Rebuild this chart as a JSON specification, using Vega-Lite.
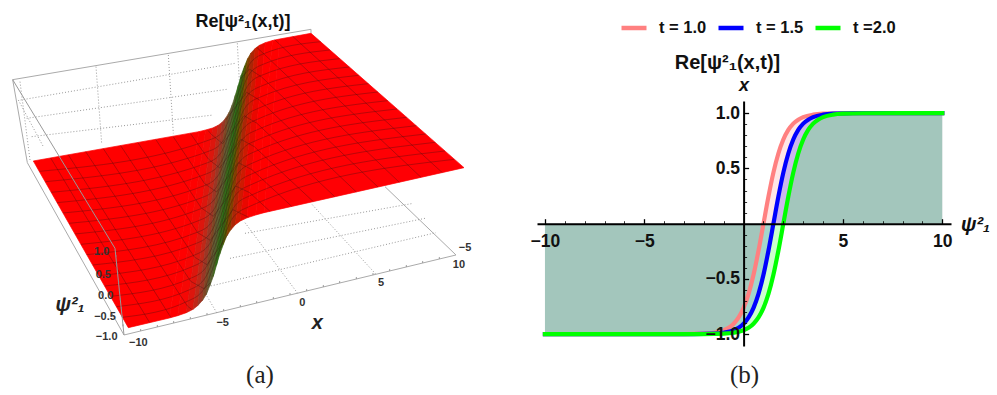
{"$schema":"https://vega.github.io/schema/vega-lite/v6.json","background":"white","padding":0,"spacing":0,"config":{"view":{"stroke":null},"text":{"font":"Liberation Sans"},"title":{"font":"Liberation Sans","fontWeight":"bold","color":"#111"}},
"hconcat":[
{"width":500,"height":395,"title":{"text":"Re[ψ²₁(x,t)]","fontSize":18,"anchor":"middle","dx":-7,"offset":-31},
"projection":{"type":"identity","scale":0.33333,"translate":[0,0]},
"layer":[
{"data":{"values":[
{"k":"a","u":38,"v":239},{"k":"a","u":933,"v":88},{"k":"a","u":933,"v":100},
{"k":"b","u":38,"v":239},{"k":"b","u":82,"v":488},
{"k":"c","u":82,"v":488},{"k":"c","u":372,"v":1005},
{"k":"d","u":1368,"v":765},{"k":"d","u":1155,"v":560},
{"k":"e","u":372,"v":1005},{"k":"e","u":1368,"v":765}]},
"mark":{"type":"line","stroke":"#aaaaaa","strokeWidth":1},"encoding":{"longitude":{"field":"u","type":"quantitative"},"latitude":{"field":"v","type":"quantitative"},"detail":{"field":"k"}}},
{"data":{"values":[
{"k":"a","u":288,"v":200},{"k":"a","u":305,"v":430},
{"k":"b","u":505,"v":165},{"k":"b","u":520,"v":400},
{"k":"c","u":712,"v":130},{"k":"c","u":725,"v":375},
{"k":"d","u":62,"v":300},{"k":"d","u":705,"v":190},
{"k":"e","u":80,"v":355},{"k":"e","u":680,"v":268},
{"k":"f","u":95,"v":410},{"k":"f","u":640,"v":345},
{"k":"g","u":55,"v":300},{"k":"g","u":130,"v":440},
{"k":"h","u":60,"v":245},{"k":"h","u":90,"v":480},
{"k":"i","u":650,"v":938},{"k":"i","u":610,"v":870},
{"k":"j","u":893,"v":880},{"k":"j","u":735,"v":668},
{"k":"l","u":1127,"v":822},{"k":"l","u":935,"v":612},
{"k":"m","u":615,"v":862},{"k":"m","u":1308,"v":698},
{"k":"n","u":690,"v":775},{"k":"n","u":1275,"v":655},
{"k":"o","u":735,"v":700},{"k":"o","u":1240,"v":610}]},
"mark":{"type":"line","stroke":"#999999","strokeWidth":1,"strokeDash":[1,2]},"encoding":{"longitude":{"field":"u","type":"quantitative"},"latitude":{"field":"v","type":"quantitative"},"detail":{"field":"k"}}},
{"data":{"values":[
{"phase":-4,"type":"Feature","geometry":{"type":"Polygon","coordinates":[[[100,483],[596.5,395],[508,954],[385,983],[100,483]]]}},
{"phase":4,"type":"Feature","geometry":{"type":"Polygon","coordinates":[[[839,117],[933,100],[1392,503],[792,638],[839,117]]]}},
{"phase":-2.75,"type":"Feature","geometry":{"type":"Polygon","coordinates":[[[596.5,395],[617,390],[533,947],[508,954],[596.5,395]]]}},
{"phase":-2.25,"type":"Feature","geometry":{"type":"Polygon","coordinates":[[[617,390],[638,384],[559,938],[533,947],[617,390]]]}},
{"phase":-1.8,"type":"Feature","geometry":{"type":"Polygon","coordinates":[[[638,384],[654.5,376],[579,928],[559,938],[638,384]]]}},
{"phase":-1.45,"type":"Feature","geometry":{"type":"Polygon","coordinates":[[[654.5,376],[667,366.5],[593,917],[579,928],[654.5,376]]]}},
{"phase":-1.15,"type":"Feature","geometry":{"type":"Polygon","coordinates":[[[667,366.5],[678,353],[607.5,901],[593,917],[667,366.5]]]}},
{"phase":-0.875,"type":"Feature","geometry":{"type":"Polygon","coordinates":[[[678,353],[688,336],[619,883],[607.5,901],[678,353]]]}},
{"phase":-0.625,"type":"Feature","geometry":{"type":"Polygon","coordinates":[[[688,336],[697,314],[629,858],[619,883],[688,336]]]}},
{"phase":-0.375,"type":"Feature","geometry":{"type":"Polygon","coordinates":[[[697,314],[706,286],[640,828.5],[629,858],[697,314]]]}},
{"phase":-0.125,"type":"Feature","geometry":{"type":"Polygon","coordinates":[[[706,286],[715,256],[649.5,795.5],[640,828.5],[706,286]]]}},
{"phase":0.125,"type":"Feature","geometry":{"type":"Polygon","coordinates":[[[715,256],[724,225],[659,763],[649.5,795.5],[715,256]]]}},
{"phase":0.375,"type":"Feature","geometry":{"type":"Polygon","coordinates":[[[724,225],[734,198],[670,733],[659,763],[724,225]]]}},
{"phase":0.625,"type":"Feature","geometry":{"type":"Polygon","coordinates":[[[734,198],[743,176],[680,708],[670,733],[734,198]]]}},
{"phase":0.875,"type":"Feature","geometry":{"type":"Polygon","coordinates":[[[743,176],[753,159],[692,690],[680,708],[743,176]]]}},
{"phase":1.15,"type":"Feature","geometry":{"type":"Polygon","coordinates":[[[753,159],[766,145],[706,674],[692,690],[753,159]]]}},
{"phase":1.45,"type":"Feature","geometry":{"type":"Polygon","coordinates":[[[766,145],[778.5,136],[721,663],[706,674],[766,145]]]}},
{"phase":1.8,"type":"Feature","geometry":{"type":"Polygon","coordinates":[[[778.5,136],[796,128],[741,653.5],[721,663],[778.5,136]]]}},
{"phase":2.25,"type":"Feature","geometry":{"type":"Polygon","coordinates":[[[796,128],[817.5,121.5],[767,645],[741,653.5],[796,128]]]}},
{"phase":2.75,"type":"Feature","geometry":{"type":"Polygon","coordinates":[[[817.5,121.5],[839,117],[792,638],[767,645],[817.5,121.5]]]}}
]},
"mark":{"type":"geoshape","strokeWidth":0.7},
"encoding":{
"color":{"field":"phase","type":"quantitative","legend":null,"scale":{"domain":[-2.4,-1.6,-1,-0.5,0,0.5,1,1.6,2.2],"range":["#ff0000","#d21a10","#8a3a2a","#5a5a3a","#1f6a14","#3a5a10","#9a2808","#e00a00","#ff0000"]}},
"stroke":{"field":"phase","type":"quantitative","legend":null,"scale":{"domain":[-2.4,-1.6,-1,-0.5,0,0.5,1,1.6,2.2],"range":["#ff0000","#d21a10","#8a3a2a","#5a5a3a","#1f6a14","#3a5a10","#9a2808","#e00a00","#ff0000"]}}}},
{"data":{"values":[
{"k":1,"u":367,"v":952},{"k":1,"u":564,"v":903},{"k":1,"u":612,"v":867},{"k":1,"u":654,"v":762},{"k":1,"u":696,"v":657},{"k":1,"u":745,"v":621},{"k":1,"u":1363,"v":478},
{"k":2,"u":349,"v":920},{"k":2,"u":569,"v":869},{"k":2,"u":616,"v":833},{"k":2,"u":658,"v":728},{"k":2,"u":700,"v":624},{"k":2,"u":748,"v":588},{"k":2,"u":1335,"v":453},
{"k":3,"u":332,"v":889},{"k":3,"u":574,"v":834},{"k":3,"u":621,"v":798},{"k":3,"u":662,"v":694},{"k":3,"u":703,"v":590},{"k":3,"u":751,"v":555},{"k":3,"u":1306,"v":427},
{"k":4,"u":314,"v":858},{"k":4,"u":579,"v":799},{"k":4,"u":625,"v":764},{"k":4,"u":666,"v":661},{"k":4,"u":707,"v":557},{"k":4,"u":755,"v":522},{"k":4,"u":1277,"v":402},
{"k":5,"u":296,"v":827},{"k":5,"u":584,"v":765},{"k":5,"u":630,"v":730},{"k":5,"u":670,"v":627},{"k":5,"u":711,"v":524},{"k":5,"u":758,"v":489},{"k":5,"u":1249,"v":377},
{"k":6,"u":278,"v":795},{"k":6,"u":589,"v":730},{"k":6,"u":634,"v":695},{"k":6,"u":674,"v":593},{"k":6,"u":715,"v":491},{"k":6,"u":762,"v":456},{"k":6,"u":1220,"v":352},
{"k":7,"u":260,"v":764},{"k":7,"u":594,"v":696},{"k":7,"u":639,"v":661},{"k":7,"u":678,"v":559},{"k":7,"u":719,"v":458},{"k":7,"u":765,"v":423},{"k":7,"u":1191,"v":327},
{"k":8,"u":243,"v":733},{"k":8,"u":598,"v":661},{"k":8,"u":643,"v":627},{"k":8,"u":682,"v":526},{"k":8,"u":723,"v":424},{"k":8,"u":768,"v":391},{"k":8,"u":1163,"v":302},
{"k":9,"u":225,"v":702},{"k":9,"u":603,"v":626},{"k":9,"u":647,"v":593},{"k":9,"u":686,"v":492},{"k":9,"u":726,"v":391},{"k":9,"u":772,"v":358},{"k":9,"u":1134,"v":276},
{"k":10,"u":207,"v":670},{"k":10,"u":608,"v":592},{"k":10,"u":652,"v":558},{"k":10,"u":691,"v":458},{"k":10,"u":730,"v":358},{"k":10,"u":775,"v":325},{"k":10,"u":1105,"v":251},
{"k":11,"u":189,"v":639},{"k":11,"u":613,"v":557},{"k":11,"u":656,"v":524},{"k":11,"u":695,"v":424},{"k":11,"u":734,"v":325},{"k":11,"u":779,"v":292},{"k":11,"u":1076,"v":226},
{"k":12,"u":171,"v":608},{"k":12,"u":618,"v":522},{"k":12,"u":661,"v":490},{"k":12,"u":699,"v":391},{"k":12,"u":738,"v":292},{"k":12,"u":782,"v":259},{"k":12,"u":1048,"v":201},
{"k":13,"u":153,"v":577},{"k":13,"u":623,"v":488},{"k":13,"u":665,"v":455},{"k":13,"u":703,"v":357},{"k":13,"u":742,"v":259},{"k":13,"u":785,"v":226},{"k":13,"u":1019,"v":176},
{"k":14,"u":136,"v":545},{"k":14,"u":628,"v":453},{"k":14,"u":670,"v":421},{"k":14,"u":707,"v":323},{"k":14,"u":746,"v":225},{"k":14,"u":789,"v":193},{"k":14,"u":990,"v":150},
{"k":15,"u":118,"v":514},{"k":15,"u":633,"v":418},{"k":15,"u":674,"v":387},{"k":15,"u":711,"v":290},{"k":15,"u":749,"v":192},{"k":15,"u":792,"v":161},{"k":15,"u":962,"v":125}]},
"mark":{"type":"line","stroke":"#3a1010","strokeWidth":0.7,"opacity":0.5,"interpolate":"monotone"},"encoding":{"longitude":{"field":"u","type":"quantitative"},"latitude":{"field":"v","type":"quantitative"},"detail":{"field":"k"}}},
{"data":{"values":[
{"k":0,"u":449,"v":968},{"k":0,"u":152,"v":474},
{"k":1,"u":513,"v":953},{"k":1,"u":205,"v":464.5},
{"k":2,"u":576,"v":929},{"k":2,"u":562,"v":918},{"k":2,"u":257,"v":455},
{"k":3,"u":633,"v":847},{"k":3,"u":612,"v":866},{"k":3,"u":572,"v":844},{"k":3,"u":310,"v":446},
{"k":4,"u":685,"v":701},{"k":4,"u":655,"v":747},{"k":4,"u":621,"v":794},{"k":4,"u":583,"v":771},{"k":4,"u":362,"v":437},
{"k":5,"u":746,"v":652},{"k":5,"u":699,"v":629},{"k":5,"u":664,"v":676},{"k":5,"u":631,"v":721},{"k":5,"u":593,"v":698},{"k":5,"u":414,"v":428},
{"k":6,"u":810,"v":634},{"k":6,"u":749,"v":578},{"k":6,"u":707,"v":558},{"k":6,"u":673,"v":605},{"k":6,"u":640,"v":649},{"k":6,"u":604,"v":624},{"k":6,"u":467,"v":418},
{"k":7,"u":875,"v":619},{"k":7,"u":756,"v":509},{"k":7,"u":715,"v":488},{"k":7,"u":682,"v":533},{"k":7,"u":650,"v":576},{"k":7,"u":614,"v":551},{"k":7,"u":519,"v":409},
{"k":8,"u":940,"v":605},{"k":8,"u":763,"v":440},{"k":8,"u":723,"v":418},{"k":8,"u":690,"v":462},{"k":8,"u":659,"v":504},{"k":8,"u":625,"v":477},{"k":8,"u":571,"v":400},
{"k":9,"u":1004,"v":590},{"k":9,"u":771,"v":370},{"k":9,"u":732,"v":347},{"k":9,"u":699,"v":390},{"k":9,"u":668,"v":431},{"k":9,"u":635,"v":404},{"k":9,"u":624,"v":391},
{"k":10,"u":1069,"v":576},{"k":10,"u":778,"v":300},{"k":10,"u":740,"v":277},{"k":10,"u":708,"v":319},{"k":10,"u":678,"v":359},
{"k":11,"u":1134,"v":561},{"k":11,"u":785,"v":231},{"k":11,"u":748,"v":207},{"k":11,"u":721,"v":237},
{"k":12,"u":1198,"v":547},{"k":12,"u":792,"v":162},{"k":12,"u":770,"v":142},
{"k":13,"u":1263,"v":532},{"k":13,"u":824,"v":119},
{"k":14,"u":1327,"v":518},{"k":14,"u":878,"v":109}]},
"mark":{"type":"line","stroke":"#3a1010","strokeWidth":0.7,"opacity":0.5},"encoding":{"longitude":{"field":"u","type":"quantitative"},"latitude":{"field":"v","type":"quantitative"},"detail":{"field":"k"}}},
{"data":{"values":[
{"k":"a","u":38,"v":239},{"k":"a","u":345,"v":745},
{"k":"b","u":345,"v":745},{"k":"b","u":372,"v":1005}]},
"mark":{"type":"line","stroke":"#999999","strokeWidth":1},"encoding":{"longitude":{"field":"u","type":"quantitative"},"latitude":{"field":"v","type":"quantitative"},"detail":{"field":"k"}}},
{"data":{"values":[
{"u":422,"v":993},{"u":472,"v":981},{"u":521,"v":969},{"u":571,"v":957},{"u":621,"v":945},{"u":671,"v":933},{"u":721,"v":921},{"u":770,"v":909},{"u":820,"v":897},{"u":870,"v":885},{"u":920,"v":873},{"u":970,"v":861},{"u":1019,"v":849},{"u":1069,"v":837},{"u":1119,"v":825},{"u":1169,"v":813},{"u":1219,"v":801},{"u":1268,"v":789},{"u":1318,"v":777},
{"u":348,"v":771},{"u":350,"v":797},{"u":353,"v":823},{"u":356,"v":849},{"u":358,"v":875},{"u":361,"v":901},{"u":364,"v":927},{"u":367,"v":953},{"u":369,"v":979}]},
"mark":{"type":"point","shape":"M0,0L0,-1","filled":false,"stroke":"#888888","strokeWidth":0.8,"size":16,"opacity":1},"encoding":{"longitude":{"field":"u","type":"quantitative"},"latitude":{"field":"v","type":"quantitative"}}},
{"data":{"values":[
{"t":"1.0","u":305,"v":757},{"t":"0.5","u":310,"v":825},{"t":"0.0","u":317,"v":888},{"t":"−0.5","u":315,"v":952},{"t":"−1.0","u":320,"v":1012},
{"t":"−10","u":415,"v":1030},{"t":"−5","u":668,"v":968},{"t":"0","u":907,"v":908},{"t":"5","u":1143,"v":850},{"t":"10","u":1377,"v":796},{"t":"−5","u":1395,"v":745}]},
"mark":{"type":"text","font":"Liberation Sans","fontWeight":"bold","fontSize":11,"color":"#333333","baseline":"middle"},"encoding":{"longitude":{"field":"u","type":"quantitative"},"latitude":{"field":"v","type":"quantitative"},"text":{"field":"t"}}},
{"data":{"values":[{"t":"ψ²₁","u":210,"v":915},{"t":"x","u":952,"v":970}]},
"mark":{"type":"text","font":"Liberation Sans","fontWeight":"bold","fontStyle":"italic","fontSize":20,"color":"#222222","baseline":"middle"},"encoding":{"longitude":{"field":"u","type":"quantitative"},"latitude":{"field":"v","type":"quantitative"},"text":{"field":"t"}}},
{"data":{"values":[{"t":"(a)","u":780,"v":1125}]},
"mark":{"type":"text","font":"Liberation Serif","fontSize":25,"color":"#222222","baseline":"middle"},"encoding":{"longitude":{"field":"u","type":"quantitative"},"latitude":{"field":"v","type":"quantitative"},"text":{"field":"t"}}}
]},
{"width":497,"height":395,"title":{"text":"Re[ψ²₁(x,t)]","fontSize":20,"anchor":"middle","dx":-21,"offset":-73},
"data":{"values":[
{"t":"t = 1.0","x":-10,"y":-1},{"t":"t = 1.0","x":-3,"y":-0.9993},{"t":"t = 1.0","x":-2,"y":-0.9951},{"t":"t = 1.0","x":-1.5,"y":-0.9866},{"t":"t = 1.0","x":-1,"y":-0.964},{"t":"t = 1.0","x":-0.75,"y":-0.9414},{"t":"t = 1.0","x":-0.5,"y":-0.9051},{"t":"t = 1.0","x":-0.25,"y":-0.8483},{"t":"t = 1.0","x":0,"y":-0.7616},{"t":"t = 1.0","x":0.25,"y":-0.6351},{"t":"t = 1.0","x":0.5,"y":-0.4621},{"t":"t = 1.0","x":0.75,"y":-0.2449},{"t":"t = 1.0","x":1,"y":0},{"t":"t = 1.0","x":1.25,"y":0.2449},{"t":"t = 1.0","x":1.5,"y":0.4621},{"t":"t = 1.0","x":1.75,"y":0.6351},{"t":"t = 1.0","x":2,"y":0.7616},{"t":"t = 1.0","x":2.25,"y":0.8483},{"t":"t = 1.0","x":2.5,"y":0.9051},{"t":"t = 1.0","x":2.75,"y":0.9414},{"t":"t = 1.0","x":3,"y":0.964},{"t":"t = 1.0","x":3.5,"y":0.9866},{"t":"t = 1.0","x":4,"y":0.9951},{"t":"t = 1.0","x":5,"y":0.9993},{"t":"t = 1.0","x":10,"y":1},
{"t":"t = 1.5","x":-10,"y":-1},{"t":"t = 1.5","x":-2.5,"y":-0.9993},{"t":"t = 1.5","x":-1.5,"y":-0.9951},{"t":"t = 1.5","x":-1,"y":-0.9866},{"t":"t = 1.5","x":-0.5,"y":-0.964},{"t":"t = 1.5","x":-0.25,"y":-0.9414},{"t":"t = 1.5","x":0,"y":-0.9051},{"t":"t = 1.5","x":0.25,"y":-0.8483},{"t":"t = 1.5","x":0.5,"y":-0.7616},{"t":"t = 1.5","x":0.75,"y":-0.6351},{"t":"t = 1.5","x":1,"y":-0.4621},{"t":"t = 1.5","x":1.25,"y":-0.2449},{"t":"t = 1.5","x":1.5,"y":0},{"t":"t = 1.5","x":1.75,"y":0.2449},{"t":"t = 1.5","x":2,"y":0.4621},{"t":"t = 1.5","x":2.25,"y":0.6351},{"t":"t = 1.5","x":2.5,"y":0.7616},{"t":"t = 1.5","x":2.75,"y":0.8483},{"t":"t = 1.5","x":3,"y":0.9051},{"t":"t = 1.5","x":3.25,"y":0.9414},{"t":"t = 1.5","x":3.5,"y":0.964},{"t":"t = 1.5","x":4,"y":0.9866},{"t":"t = 1.5","x":4.5,"y":0.9951},{"t":"t = 1.5","x":5.5,"y":0.9993},{"t":"t = 1.5","x":10,"y":1},
{"t":"t =2.0","x":-10,"y":-1},{"t":"t =2.0","x":-2,"y":-0.9993},{"t":"t =2.0","x":-1,"y":-0.9951},{"t":"t =2.0","x":-0.5,"y":-0.9866},{"t":"t =2.0","x":0,"y":-0.964},{"t":"t =2.0","x":0.25,"y":-0.9414},{"t":"t =2.0","x":0.5,"y":-0.9051},{"t":"t =2.0","x":0.75,"y":-0.8483},{"t":"t =2.0","x":1,"y":-0.7616},{"t":"t =2.0","x":1.25,"y":-0.6351},{"t":"t =2.0","x":1.5,"y":-0.4621},{"t":"t =2.0","x":1.75,"y":-0.2449},{"t":"t =2.0","x":2,"y":0},{"t":"t =2.0","x":2.25,"y":0.2449},{"t":"t =2.0","x":2.5,"y":0.4621},{"t":"t =2.0","x":2.75,"y":0.6351},{"t":"t =2.0","x":3,"y":0.7616},{"t":"t =2.0","x":3.25,"y":0.8483},{"t":"t =2.0","x":3.5,"y":0.9051},{"t":"t =2.0","x":3.75,"y":0.9414},{"t":"t =2.0","x":4,"y":0.964},{"t":"t =2.0","x":4.5,"y":0.9866},{"t":"t =2.0","x":5,"y":0.9951},{"t":"t =2.0","x":6,"y":0.9993},{"t":"t =2.0","x":10,"y":1}
]},
"resolve":{"axis":{"x":"independent","y":"independent"}},
"layer":[
{"mark":{"type":"area","opacity":0.2,"interpolate":"monotone"},
"encoding":{
"x":{"field":"x","type":"quantitative","scale":{"domain":[-10.4,10.44],"range":[37,451],"nice":false,"zero":false},
"axis":{"orient":"bottom","offset":-171.3,"values":[-10,-5,5,10],"title":"ψ²₁","titleFont":"Liberation Sans","titleFontWeight":"bold","titleFontStyle":"italic","titleFontSize":20,"titleColor":"#111","titleX":475,"titleY":1,"titleBaseline":"middle","titleAlign":"center","titleAngle":0,"domainColor":"black","domainWidth":2,"tickColor":"black","tickWidth":1.3,"tickSize":-5,"labelFont":"Liberation Sans","labelFontWeight":"bold","labelFontSize":17.5,"labelColor":"#111","labelPadding":14,"labelOverlap":false,"grid":false,"zindex":1,"format":"d"}},
"y":{"field":"y","type":"quantitative","stack":null,"scale":{"domain":[-1.107,1.11],"range":[346,101],"nice":false,"zero":false},
"axis":{"orient":"left","offset":-243.6,"values":[-1,-0.5,0.5,1],"title":"x","titleFont":"Liberation Sans","titleFontWeight":"bold","titleFontStyle":"italic","titleFontSize":18,"titleColor":"#111","titleX":0,"titleY":85,"titleBaseline":"middle","titleAlign":"center","titleAngle":0,"domainColor":"black","domainWidth":2,"tickColor":"black","tickWidth":1.3,"tickSize":-5,"labelFont":"Liberation Sans","labelFontWeight":"bold","labelFontSize":17.5,"labelColor":"#111","labelPadding":9,"labelOverlap":false,"grid":false,"zindex":1,"format":".1f"}},
"color":{"field":"t","type":"nominal","scale":{"domain":["t = 1.0","t = 1.5","t =2.0"],"range":["#ff8080","#0000ff","#00ff00"]},
"legend":{"orient":"none","legendX":119,"legendY":13,"direction":"horizontal","title":null,"symbolType":"stroke","symbolSize":625,"symbolStrokeWidth":4.5,"symbolOpacity":1,"labelFont":"Liberation Sans","labelFontWeight":"bold","labelFontSize":16.5,"labelColor":"#111","labelOffset":10,"columnPadding":2}}}},
{"mark":{"type":"line","strokeWidth":4.2,"interpolate":"monotone","strokeCap":"square"},
"encoding":{
"x":{"field":"x","type":"quantitative","scale":{"domain":[-10.4,10.44],"range":[37,451],"nice":false,"zero":false},
"axis":{"orient":"bottom","offset":-171.3,"values":[-9,-8,-7,-6,-4,-3,-2,-1,1,2,3,4,6,7,8,9],"title":null,"labels":false,"domain":false,"tickColor":"black","tickWidth":0.8,"tickSize":-3,"grid":false,"zindex":1}},
"y":{"field":"y","type":"quantitative","stack":null,"scale":{"domain":[-1.107,1.11],"range":[346,101],"nice":false,"zero":false},
"axis":{"orient":"left","offset":-243.6,"values":[-0.9,-0.8,-0.7,-0.6,-0.4,-0.3,-0.2,-0.1,0.1,0.2,0.3,0.4,0.6,0.7,0.8,0.9],"title":null,"labels":false,"domain":false,"tickColor":"black","tickWidth":0.8,"tickSize":-3,"grid":false,"zindex":1}},
"color":{"field":"t","type":"nominal","scale":{"domain":["t = 1.0","t = 1.5","t =2.0"],"range":["#ff8080","#0000ff","#00ff00"]},
"legend":{"orient":"none","legendX":119,"legendY":13,"direction":"horizontal","title":null,"symbolType":"stroke","symbolSize":625,"symbolStrokeWidth":4.5,"symbolOpacity":1,"labelFont":"Liberation Sans","labelFontWeight":"bold","labelFontSize":16.5,"labelColor":"#111","labelOffset":10,"columnPadding":2}}}},
{"data":{"values":[{"t":"(b)","x":0.05,"y":-1.37}]},
"mark":{"type":"text","font":"Liberation Serif","fontSize":25,"color":"#222222","baseline":"middle","clip":false},
"encoding":{
"x":{"field":"x","type":"quantitative","axis":null,"scale":{"domain":[-10.4,10.44],"range":[37,451],"nice":false,"zero":false}},
"y":{"field":"y","type":"quantitative","axis":null,"scale":{"domain":[-1.107,1.11],"range":[346,101],"nice":false,"zero":false}},
"text":{"field":"t"}}}
]}
]}
